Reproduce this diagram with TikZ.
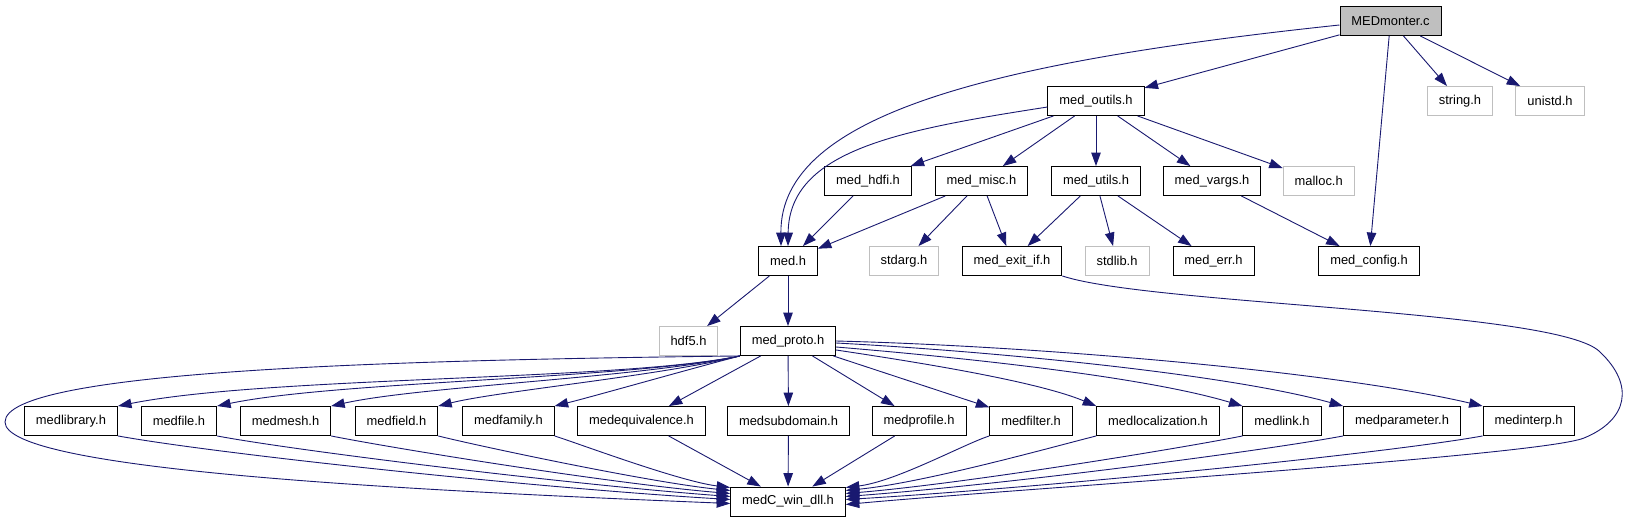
\documentclass[tikz,border=0pt]{standalone}
\usepackage{fontspec}
\setmainfont{Liberation Sans}
\usetikzlibrary{arrows.meta,positioning}
\definecolor{nedge}{HTML}{191970}
\definecolor{ngray}{HTML}{BFBFBF}
\tikzset{
 incbox/.style={draw=black, line width=0.9pt, fill=white, inner xsep=11.5pt, inner ysep=0pt,
   minimum height=29pt, font=\fontsize{12.9}{15}\selectfont},
 sysbox/.style={incbox, draw=ngray},
 rootbox/.style={incbox, fill=ngray},
 incarrow/.style={nedge, line width=0.9pt, -{Triangle[length=13.5pt,width=9.5pt]}}
}
\begin{document}
\begin{tikzpicture}[x=1pt,y=-1pt]
 \path[use as bounding box, fill=white] (0,0) rectangle (1627,523);
 % upper rows
 \node[rootbox] (medmonter) at (1390.5,21) {MEDmonter.c};
 \node[incbox] (medoutils) at (1096,101) {med\_outils.h};
 \node[sysbox] (stringh) at (1460,101) {string.h};
 \node[sysbox] (unistdh) at (1550,101) {unistd.h};
 \node[incbox] (medhdfi) at (868,181) {med\_hdfi.h};
 \node[incbox] (medmisc) at (981.4,181) {med\_misc.h};
 \node[incbox] (medutils) at (1096,181) {med\_utils.h};
 \node[incbox] (medvargs) at (1212,181) {med\_vargs.h};
 \node[sysbox] (malloch) at (1318.7,181) {malloc.h};
 \node[incbox] (medh) at (788,261) {med.h};
 \node[sysbox] (stdargh) at (904,261) {stdarg.h};
 \node[incbox] (medexitif) at (1012,261) {med\_exit\_if.h};
 \node[sysbox] (stdlibh) at (1117,261) {stdlib.h};
 \node[incbox] (mederr) at (1213.5,261) {med\_err.h};
 \node[incbox] (medconfig) at (1369,261) {med\_config.h};
 \node[sysbox] (hdffive) at (688.5,341) {hdf5.h};
 \node[incbox] (medproto) at (788,341) {med\_proto.h};
 % lower rows
 \foreach \nm/\x/\txt in {medlibrary/71/medlibrary.h, medfile/179/medfile.h, medmesh/285.5/medmesh.h,
   medfield/396.5/medfield.h, medfamily/508.4/medfamily.h, medequiv/641.5/medequivalence.h,
   medsubdomain/788.5/medsubdomain.h, medprofile/919/medprofile.h, medfilter/1031/medfilter.h,
   medlocal/1158/medlocalization.h, medlink/1282/medlink.h, medparam/1402/medparameter.h,
   medinterp/1528.6/medinterp.h}
  \node[incbox] (\nm) at (\x,421) {\txt};
 \node[incbox] (medcwin) at (788,501.5) {medC\_win\_dll.h};

 % straight includes
 \foreach \s/\t in {medmonter/medoutils, medmonter/medconfig, medmonter/stringh, medmonter/unistdh,
   medoutils/medhdfi, medoutils/medmisc, medoutils/medutils, medoutils/medvargs, medoutils/malloch,
   medhdfi/medh, medmisc/medh, medmisc/stdargh, medmisc/medexitif,
   medutils/medexitif, medutils/stdlibh, medutils/mederr, medvargs/medconfig,
   medh/hdffive, medh/medproto, medproto/medequiv, medproto/medsubdomain, medproto/medprofile,
   medproto/medfilter, medequiv/medcwin, medsubdomain/medcwin, medprofile/medcwin}
  \draw[incarrow] (\s) -- (\t);

 % long bends into med.h
 \draw[incarrow] ([yshift=-4pt]medmonter.west) .. controls (990,62) and (780,115) .. ([xshift=-7pt]medh.north);
 \draw[incarrow] ([yshift=-6pt]medoutils.west) .. controls (900,130) and (789,150) .. (medh.north);

 % med_proto fan
 \foreach \t/\ax/\ay/\bx/\by in {medlibrary/120/25/150/30, medfile/110/23/120/25, medmesh/100/22/90/20,
   medfield/80/20/60/15, medfamily/50/13/40/10}
  \draw[incarrow] (medproto.south west) .. controls +(-\ax,\ay) and +(\bx,-\by) .. (\t.north east);
 \foreach \t/\sh/\ax/\ay/\bx/\by in {medlocal/-9/80/12/60/25, medlink/-6/120/10/100/30,
   medparam/-2/150/8/120/33, medinterp/0/200/5/150/35}
  \draw[incarrow] ([yshift=\sh pt]medproto.east) .. controls +(\ax,\ay) and +(-\bx,-\by) .. (\t.north west);

 % into medC_win_dll.h
 \foreach \t/\sh/\ax/\ay/\bx/\by in {medlibrary/2/100/18/200/12, medfile/5/80/15/160/12,
   medmesh/8/60/12/120/10, medfield/11/40/10/80/8, medfamily/14/25/8/50/6}
  \draw[incarrow] (\t.south east) .. controls +(\ax,\ay) and +(-\bx,-\by) .. ([yshift=\sh pt]medcwin.west);
 \foreach \t/\sh/\ax/\ay/\bx/\by in {medfilter/14/25/8/50/6, medlocal/11/40/10/80/8,
   medlink/8/60/12/120/10, medparam/5/80/15/160/12, medinterp/2/100/18/200/12}
  \draw[incarrow] (\t.south west) .. controls +(-\ax,\ay) and +(\bx,-\by) .. ([yshift=\sh pt]medcwin.east);

 % loops round the sides
 \draw[incarrow] (medproto.south west) .. controls (400,360) and (5,370) .. (5,422)
   .. controls (5,470) and (400,490) .. ([yshift=-2pt]medcwin.west);
 \draw[incarrow] (medexitif.south east) .. controls (1150,305) and (1560,310) .. (1600,352)
   .. controls (1635,385) and (1628,420) .. (1584,438)
   .. controls (1540,456) and (1000,490) .. ([yshift=-3pt]medcwin.east);
\end{tikzpicture}
\end{document}
